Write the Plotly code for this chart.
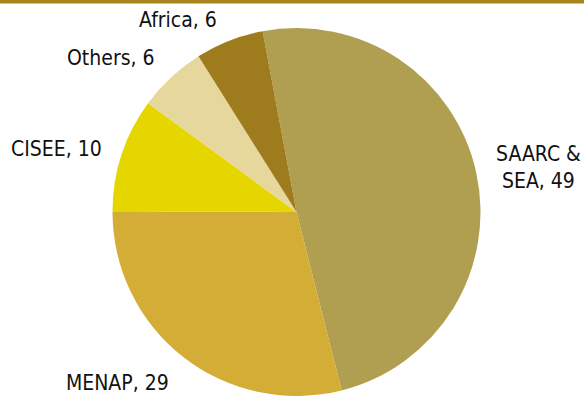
import plotly.graph_objects as go

categories = ["SAARC & SEA", "MENAP", "CISEE", "Others", "Africa"]
display_labels = ["SAARC &<br>SEA", "MENAP", "CISEE", "Others", "Africa"]
values = [49, 29, 10, 6, 6]
colors = ["#B09E51", "#D4AD37", "#E6D600", "#E6D89C", "#9E7B1C"]

# label centre positions in pixels (x from left, y from top) of the 584x396 canvas
label_px = [(538, 167), (117, 383), (56, 149), (111, 58), (178, 20)]

W, H = 584, 396

fig = go.Figure(go.Pie(
    labels=categories,
    values=values,
    textinfo="none",
    textposition="none",
    sort=False,
    direction="clockwise",
    rotation=-10.6,
    automargin=False,
    marker=dict(colors=colors, line=dict(width=0)),
    domain=dict(x=[0.0154, 1], y=[0, 1 - 28 / H]),
    showlegend=False,
    hoverinfo="label+value",
))

for lab, val, (px, py) in zip(display_labels, values, label_px):
    fig.add_annotation(
        x=px / W, y=1 - py / H, xref="paper", yref="paper",
        text=f"{lab}, {val}", showarrow=False,
        xanchor="center", yanchor="middle", align="center",
        font=dict(family="DejaVu Sans Condensed", size=21, color="#111111"),
    )

fig.add_shape(type="rect", xref="paper", yref="paper", x0=0, x1=1,
              y0=1 - 3.5 / H, y1=1,
              fillcolor="#A8851E", line=dict(width=0))

fig.update_layout(
    width=W, height=H,
    margin=dict(l=0, r=0, t=0, b=0),
    paper_bgcolor="white", plot_bgcolor="white",
    font=dict(family="DejaVu Sans Condensed", size=21),
)

fig.write_html("out.html")
